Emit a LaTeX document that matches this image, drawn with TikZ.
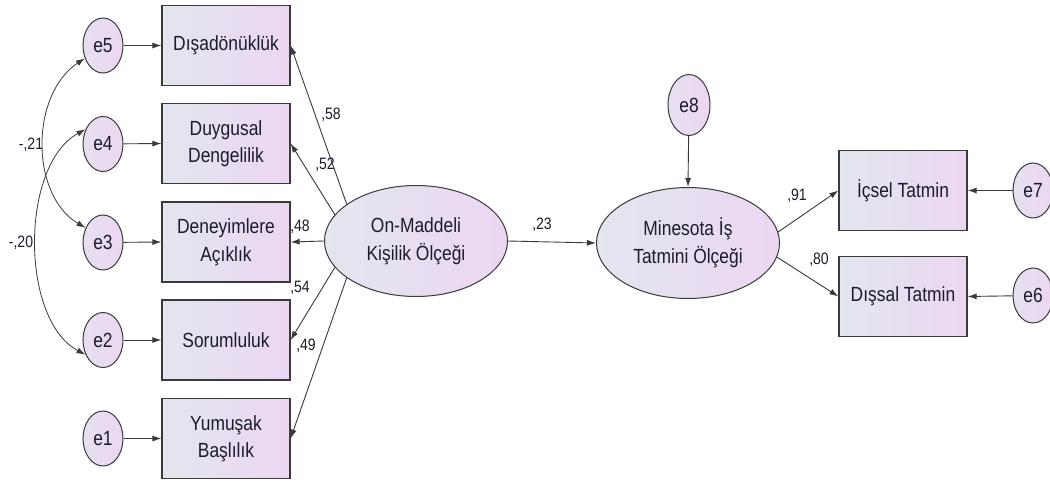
\documentclass[tikz,border=0pt]{standalone}
\usepackage{fontspec}
\setmainfont{Liberation Sans}[FakeStretch=0.85]
\usetikzlibrary{shapes.geometric,arrows.meta}
\definecolor{inkc}{HTML}{1C1C2C}
\definecolor{edgec}{HTML}{3A3A3A}
\definecolor{fillL}{HTML}{E2E6EE}
\definecolor{fillR}{HTML}{ECD6F2}
\tikzset{
  txt/.style={font=\fontsize{20.5}{27.5}\selectfont, text=inkc, align=center},
  obsbox/.style={txt, rectangle, draw=edgec, line width=1.2pt,
    minimum width=128pt, minimum height=80pt, inner sep=0pt,
    left color=fillL, right color=fillR},
  latent/.style={txt, ellipse, draw=edgec, line width=1pt,
    minimum width=183pt, minimum height=111pt, inner sep=0pt,
    left color=fillL, right color=fillR},
  errc/.style={txt, ellipse, draw=edgec, line width=1pt,
    minimum width=40pt, minimum height=55pt, inner sep=0pt,
    left color=fillL!60!fillR, right color=fillR},
  path/.style={draw=edgec, line width=0.9pt, -{Latex[length=9pt,width=6pt]}},
  covpath/.style={draw=edgec, line width=0.8pt,
    {Latex[length=9pt,width=6pt]}-{Latex[length=9pt,width=6pt]}},
  coef/.style={font=\fontsize{16.5}{18}\selectfont, text=inkc, inner sep=0pt},
}
\begin{document}
\begin{tikzpicture}[x=1pt, y=-1pt]
\useasboundingbox[fill=white] (0,0) rectangle (1050,482);

% observed indicators of the personality scale
\node[obsbox] (b5) at (226,45.5)  {Dışadönüklük};
\node[obsbox] (b4) at (226,143.5) {Duygusal\\Dengelilik};
\node[obsbox] (b3) at (226,242)   {Deneyimlere\\Açıklık};
\node[obsbox] (b2) at (226,340)   {Sorumluluk};
\node[obsbox] (b1) at (226,438.5) {Yumuşak\\Başlılık};

% error terms
\node[errc] (e5) at (103,45.5)  {e5};
\node[errc] (e4) at (103,144)   {e4};
\node[errc] (e3) at (103,242.5) {e3};
\node[errc] (e2) at (103,340)   {e2};
\node[errc] (e1) at (103,438.5) {e1};

% latent variables
\node[latent] (onm) at (416,241) {On-Maddeli\\Kişilik Ölçeği};
\node[latent] (mis) at (688,243) {Minesota İş\\Tatmini Ölçeği};
\node[errc, minimum width=42pt, minimum height=61pt] (e8) at (689,105) {e8};

% job satisfaction indicators
\node[obsbox] (bi) at (903,190.5) {İçsel Tatmin};
\node[obsbox] (bd) at (903,296.5) {Dışsal Tatmin};
\node[errc] (e7) at (1033,190.5) {e7};
\node[errc] (e6) at (1033,295.5) {e6};

% error paths
\foreach \i in {1,...,5} { \draw[path] (e\i) -- (b\i.west); }
\draw[path] (e8) -- (mis.north);
\draw[path] (e7) -- (bi.east);
\draw[path] (e6) -- (bd.east);

% factor loadings
\draw[path] (onm.152) -- (b5.east);
\draw[path] (onm.162) -- (b4.east);
\draw[path] (onm.west) -- (b3.east);
\draw[path] (onm.198) -- (b2.east);
\draw[path] (onm.208) -- (b1.east);
\draw[path] (onm.east) -- (mis.west);
\draw[path] (mis.7) -- (bi.west);
\draw[path] (mis.-9) -- (bd.west);

% error covariances
\draw[covpath] (e5.215) .. controls (30,95) and (30,195) .. (e3.140);
\draw[covpath] (e4.140) .. controls (20,165) and (20,320) .. (e2.220);

% coefficients
\node[coef] (c58) at (331,115) {,58};
\node[coef] (c52) at (325,165) {,52};
\node[coef] (c48) at (300,227) {,48};
\node[coef] (c54) at (300,288) {,54};
\node[coef] (c49) at (306,346) {,49};
\node[coef] (c23) at (542,225) {,23};
\node[coef] (c91) at (797,196) {,91};
\node[coef] (c80) at (819,260) {,80};
\node[coef] (c21) at (31,145) {-,21};
\node[coef] (c20) at (21,243) {-,20};
\end{tikzpicture}
\end{document}
